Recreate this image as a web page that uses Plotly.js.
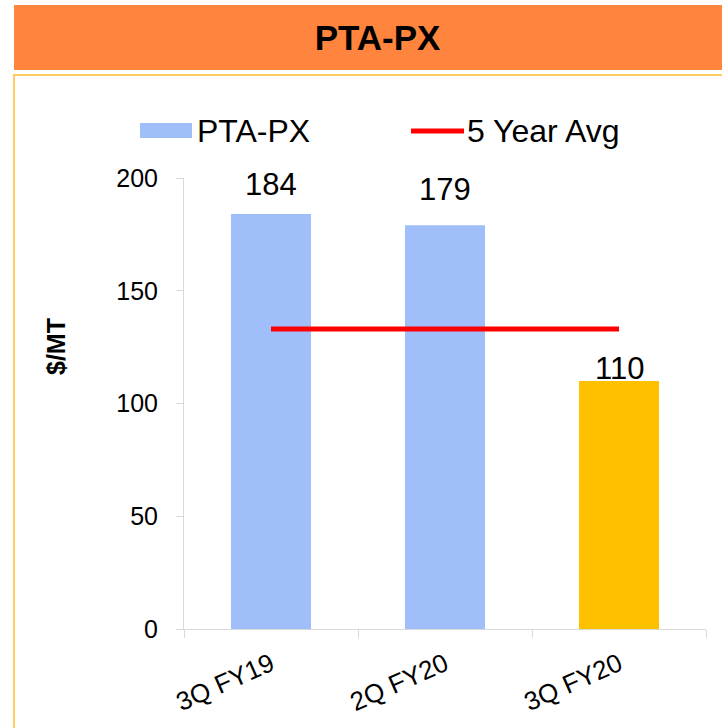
<!DOCTYPE html>
<html>
<head>
<meta charset="utf-8">
<script src="https://cdn.plot.ly/plotly-3.0.1.min.js"></script>
<style>
  html, body { margin: 0; padding: 0; background: #ffffff; }
  #chart { width: 722px; height: 728px; }
</style>
</head>
<body>
<div id="chart"></div>
<script>
// ---- data ----
const categories = ['3Q FY19', '2Q FY20', '3Q FY20'];
const ptaPxValues = [184, 179, 110];
const fiveYearAvg = [133, 133, 133];
const seriesNames = ['PTA-PX', '5 Year Avg'];
const yTickValues = [0, 50, 100, 150, 200];

// ---- styles ----
const barColors = ['#A0BFFA', '#A0BFFA', '#FFC000'];
const labelShift = [10, 16, -7];
const FONT = 'Liberation Sans, Arial, sans-serif';

// plot area geometry in pixels (for converting decorations to paper coords)
const W = 722, H = 728, L = 184, R = 16, T = 178, B = 99;
const pw = W - L - R, ph = H - T - B;
const px = v => (v - L) / pw;
const py = v => (H - B - v) / ph;

const traces = [
  {
    type: 'bar',
    name: seriesNames[0],
    x: categories,
    y: ptaPxValues,
    marker: { color: barColors },
    width: 0.46,
    hoverinfo: 'x+y',
    showlegend: false
  },
  {
    type: 'scatter',
    mode: 'lines',
    name: seriesNames[1],
    x: categories,
    y: fiveYearAvg,
    line: { color: '#FF0000', width: 5 },
    showlegend: false
  }
];

const annotations = categories.map((c, i) => ({
  x: c, y: ptaPxValues[i], xref: 'x', yref: 'y',
  text: String(ptaPxValues[i]),
  showarrow: false, yanchor: 'bottom', xanchor: 'center',
  yshift: labelShift[i],
  font: { family: FONT, size: 31, color: '#000000' }
}));

// legend text
annotations.push({
  xref: 'paper', yref: 'paper', x: px(195), y: py(130.5),
  xanchor: 'left', yanchor: 'middle', showarrow: false,
  text: seriesNames[0], font: { family: FONT, size: 32, color: '#000000' }
});
annotations.push({
  xref: 'paper', yref: 'paper', x: px(465), y: py(130.5),
  xanchor: 'left', yanchor: 'middle', showarrow: false,
  text: seriesNames[1], font: { family: FONT, size: 32, color: '#000000' }
});
// y axis title
annotations.push({
  xref: 'paper', yref: 'paper', x: px(56), y: py(347),
  xanchor: 'center', yanchor: 'middle', showarrow: false, textangle: -90,
  text: '<b>$/MT</b>', font: { family: FONT, size: 25, color: '#000000' }
});

const shapes = [
  // header band
  { type: 'rect', xref: 'paper', yref: 'paper', layer: 'below',
    x0: px(14), x1: px(730), y0: py(70), y1: py(5),
    fillcolor: '#FF843D', line: { width: 0 } },
  // frame
  { type: 'rect', xref: 'paper', yref: 'paper', layer: 'below',
    x0: px(14), x1: px(740), y0: py(760), y1: py(75),
    fillcolor: 'rgba(0,0,0,0)', line: { color: '#FFCB62', width: 2 } },
  // legend swatches
  { type: 'rect', xref: 'paper', yref: 'paper',
    x0: px(140), x1: px(192), y0: py(138), y1: py(123),
    fillcolor: barColors[0], line: { width: 0 } },
  { type: 'line', xref: 'paper', yref: 'paper',
    x0: px(411), x1: px(464), y0: py(131), y1: py(131),
    line: { color: '#FF0000', width: 5 } }
];

const layout = {
  width: W, height: H,
  margin: { l: L, r: R, t: T, b: B, pad: 0 },
  paper_bgcolor: '#ffffff',
  plot_bgcolor: '#ffffff',
  font: { family: FONT, color: '#000000' },
  title: {
    text: '<b>PTA-PX</b>',
    font: { family: FONT, size: 35, color: '#000000' },
    xref: 'container', yref: 'container',
    x: 0.523, y: 1 - 38 / H, xanchor: 'center', yanchor: 'middle'
  },
  showlegend: false,
  bargap: 0.54,
  xaxis: {
    type: 'category',
    tickson: 'boundaries',
    ticks: 'outside', ticklen: 8, tickcolor: '#D9D9D9', tickwidth: 1,
    showline: true, linecolor: '#D9D9D9', linewidth: 1,
    showgrid: false, zeroline: false,
    tickangle: -24,
    ticklabelstandoff: 9,
    tickfont: { family: FONT, size: 26, color: '#000000' },
    fixedrange: true
  },
  yaxis: {
    range: [0, 200],
    tickvals: yTickValues,
    ticks: 'outside', ticklen: 7, tickcolor: '#D9D9D9', tickwidth: 1,
    showline: true, linecolor: '#D9D9D9', linewidth: 1,
    showgrid: false, zeroline: false,
    ticklabelstandoff: 13,
    tickfont: { family: FONT, size: 25, color: '#000000' },
    fixedrange: true
  },
  annotations: annotations,
  shapes: shapes
};

Plotly.newPlot('chart', traces, layout, { displayModeBar: false, staticPlot: true });
</script>
</body>
</html>
